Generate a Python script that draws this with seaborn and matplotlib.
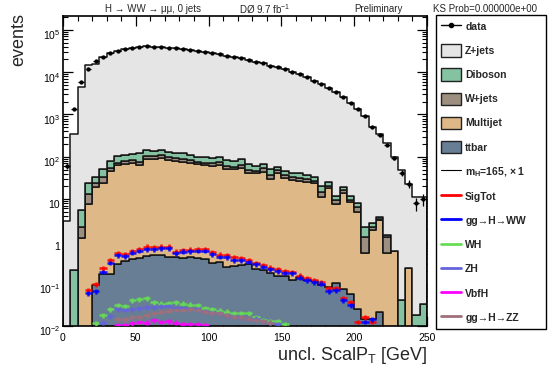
import numpy as np
import pandas as pd
import matplotlib
matplotlib.use("Agg")
import matplotlib.pyplot as plt
import seaborn as sns
from matplotlib.patches import Patch
from matplotlib.lines import Line2D
from matplotlib.transforms import ScaledTranslation
from matplotlib.ticker import FixedLocator, MultipleLocator, FuncFormatter, NullFormatter

# ---------------- data ----------------
bin_lo, bin_hi, nbins = 0, 250, 50

data_counts = [60, 1330, 5860, 11900, 18100, 23200, 28400, 32200, 34800, 36700,
               38800, 41000, 40100, 39400, 37900, 37300, 35900, 34000, 32200, 30000,
               28400, 26500, 24500, 22900, 21300, 19400, 17700, 16200, 14300, 13100,
               11700, 10100, 8900, 7570, 6300, 5350, 4300, 3400, 2550, 1900,
               1330, 906, 515, 327, 190, 95, 42, 23, 8, 10]

zjets = [3, 350, 4530, 14770, 15540, 23100, 28300, 32100, 34700, 36600,
         38700, 40850, 39950, 39250, 37750, 37150, 35800, 33900, 32100, 29900,
         28300, 26400, 24400, 22800, 21200, 19330, 17640, 16130, 14250, 13040,
         11650, 10060, 8860, 7530, 6270, 5330, 4280, 3390, 2530, 1890,
         1320, 900, 510, 335, 210, 100, 48, 23, 11, 11]

diboson = [0, 0.21, 3.3, 11.2, 9.5, 16.7, 25.7, 31.4, 32.4, 34.0,
           44.4, 39.0, 33.0, 35.0, 32.0, 30.0, 32.3, 26.0, 23.4, 24.4,
           22.0, 23.0, 23.4, 22.6, 23.3, 18.8, 13.7, 14.1, 13.4, 9.5,
           9.7, 9.3, 11.1, 7.8, 6.7, 5.4, 4.6, 2.3, 2.6, 2.3,
           1.5, 0.88, 0.49, 0.39, 0.17, 0, 0.041, 0, 0.018, 0.034]

wjets = [0, 0, 1.0, 5.5, 4.8, 10.3, 9.0, 8.6, 12.0, 14.0,
         12.6, 17.3, 17.0, 18.0, 16.0, 14.0, 12.1, 11.4, 10.1, 8.6,
         8.4, 10.0, 9.1, 7.7, 8.8, 6.7, 6.2, 9.0, 7.8, 8.1,
         6.2, 4.5, 4.2, 3.6, 3.6, 4.0, 2.4, 1.8, 2.7, 1.1,
         1.4, 0.74, 0.37, 0.19, 0.71, 0, 0, 0, 0, 0]

multijet = [0, 0, 1.2, 7.66, 19.5, 23.4, 46.0, 63.7, 67.2, 69.6,
            63.6, 88.2, 86.5, 91.5, 83.6, 80.6, 76.2, 72.2, 66.1, 63.6,
            61.3, 63.7, 51.2, 50.3, 54.9, 41.8, 40.5, 44.3, 29.2, 40.5,
            30.8, 28.2, 26.7, 25.7, 23.5, 10.9, 17.9, 7.6, 13.6, 8.3,
            5.0, 0.52, 1.84, 3.2, 0.54, 0.60, 0, 0.24, 0, 0]

ttbar = [0, 0, 0, 0, 0.093, 0.167, 0.167, 0.30, 0.35, 0.377,
         0.40, 0.45, 0.49, 0.49, 0.43, 0.42, 0.41, 0.42, 0.41, 0.377,
         0.31, 0.33, 0.25, 0.26, 0.28, 0.29, 0.22, 0.21, 0.176, 0.155,
         0.155, 0.122, 0.147, 0.122, 0.118, 0.093, 0.085, 0.102, 0.074, 0.057,
         0.025, 0.015, 0.015, 0.021, 0, 0, 0, 0, 0, 0]

sig_tot = [0, 0, 0, 0.071, 0.098, 0.23, 0.363, 0.52, 0.50, 0.60,
           0.66, 0.75, 0.73, 0.75, 0.75, 0.57, 0.63, 0.64, 0.66, 0.65,
           0.55, 0.49, 0.47, 0.42, 0.40, 0.36, 0.31, 0.28, 0.24, 0.22,
           0.20, 0.19, 0.155, 0.135, 0.12, 0.11, 0.078, 0.078, 0.045, 0.037,
           0.0126, 0.016, 0.0126, 0, 0, 0, 0, 0, 0, 0]

gg_hww = [0, 0, 0, 0.059, 0.066, 0.19, 0.31, 0.47, 0.45, 0.54,
          0.60, 0.65, 0.65, 0.69, 0.68, 0.52, 0.57, 0.58, 0.60, 0.60,
          0.50, 0.43, 0.42, 0.36, 0.36, 0.33, 0.29, 0.25, 0.22, 0.20,
          0.18, 0.175, 0.14, 0.12, 0.11, 0.10, 0.067, 0.07, 0.041, 0.031,
          0, 0.0126, 0.0144, 0, 0, 0, 0, 0, 0, 0]

wh = [0, 0, 0, 0, 0.0116, 0.018, 0.025, 0.031, 0.029, 0.041,
      0.043, 0.045, 0.036, 0.034, 0.035, 0.037, 0.034, 0.032, 0.031, 0.026,
      0.025, 0.023, 0.022, 0.020, 0.020, 0.020, 0.016, 0.014, 0.013, 0.013,
      0.011, 0, 0, 0, 0, 0, 0, 0, 0, 0,
      0, 0, 0, 0, 0, 0, 0, 0, 0, 0]

zh = [0, 0, 0, 0, 0, 0.012, 0.017, 0.025, 0.024, 0.025,
      0.026, 0.028, 0.028, 0.029, 0.030, 0.026, 0.026, 0.025, 0.025, 0.022,
      0.020, 0.020, 0.018, 0.016, 0.016, 0.015, 0.015, 0.013, 0.012, 0.011,
      0, 0, 0, 0, 0, 0, 0, 0, 0, 0,
      0, 0, 0, 0, 0, 0, 0, 0, 0, 0]

vbfh = [0, 0, 0, 0, 0, 0, 0, 0.0106, 0.0105, 0.0116,
        0.0125, 0.012, 0.0139, 0.0125, 0.013, 0.012, 0.011, 0.011, 0.011, 0.0105,
        0, 0, 0, 0, 0, 0, 0, 0, 0, 0,
        0, 0, 0, 0, 0, 0, 0, 0, 0, 0,
        0, 0, 0, 0, 0, 0, 0, 0, 0, 0]

gg_hzz = [0, 0, 0, 0, 0, 0, 0, 0.0144, 0.0144, 0.016,
          0.016, 0.018, 0.020, 0.022, 0.023, 0.024, 0.024, 0.025, 0.024, 0.022,
          0.020, 0.020, 0.018, 0.016, 0.016, 0.015, 0.014, 0.013, 0.012, 0,
          0, 0, 0, 0, 0, 0, 0, 0, 0, 0,
          0, 0, 0, 0, 0, 0, 0, 0, 0, 0]

stack_names = ["Z+jets", "Diboson", "W+jets", "Multijet", "ttbar"]
stack_values = [zjets, diboson, wjets, multijet, ttbar]
stack_colors = ["#e5e5e5", "#85c2a2", "#9c8f80", "#dfb887", "#687e94"]

signal_names = ["SigTot", "gg\u2192H\u2192WW", "WH", "ZH", "VbfH", "gg\u2192H\u2192ZZ"]
signal_values = [sig_tot, gg_hww, wh, zh, vbfh, gg_hzz]
signal_colors = ["#ff0000", "#0000ff", "#66dd55", "#6464dc", "#ff00ff", "#a0707a"]

x_ticks = [0, 50, 100, 150, 200, 250]
y_decades = [-2, -1, 0, 1, 2, 3, 4, 5]

# ---------------- style ----------------
sns.set_style("ticks")
plt.rcParams["font.family"] = ["Liberation Sans", "DejaVu Sans"]
plt.rcParams["mathtext.fontset"] = "custom"
plt.rcParams["mathtext.rm"] = "Liberation Sans"
plt.rcParams["mathtext.it"] = "Liberation Sans:italic"
plt.rcParams["mathtext.bf"] = "Liberation Sans:bold"

W, H = 550, 368
fig = plt.figure(figsize=(W / 100, H / 100), dpi=100)
ax = fig.add_axes([63 / W, 42 / H, 364 / W, 310 / H])

edges = np.linspace(bin_lo, bin_hi, nbins + 1)
centers = 0.5 * (edges[:-1] + edges[1:])
half = 0.5 * (edges[1] - edges[0])

rows = []
for name, vals in zip(stack_names, stack_values):
    for c, v in zip(centers, vals):
        rows.append((c, v, name))
df = pd.DataFrame(rows, columns=["x", "w", "proc"])

sns.histplot(data=df, x="x", weights="w", hue="proc", hue_order=stack_names,
             multiple="stack", bins=nbins, binrange=(bin_lo, bin_hi), element="step",
             palette=dict(zip(stack_names, stack_colors)), alpha=1,
             edgecolor="#151515", linewidth=1.1, legend=False, ax=ax)

ax.set_yscale("log")

for vals, col in zip(signal_values, signal_colors):
    v = np.asarray(vals, dtype=float)
    m = v > 0
    ax.errorbar(centers[m], v[m], xerr=half, yerr=0.13 * v[m], fmt="none",
                ecolor=col, elinewidth=1.8, capsize=0, zorder=5, alpha=0.9)

d = np.asarray(data_counts, dtype=float)
ax.errorbar(centers, d, xerr=half * 0.8, yerr=np.sqrt(d), fmt="o", ms=2.1,
            color="black", elinewidth=0.9, capsize=0, zorder=10)

ax.set_xlim(bin_lo, bin_hi)
ax.set_ylim(0.01, 2.13e5)
ax.set_xlabel("")
ax.set_ylabel("")
ax.xaxis.label.set_visible(False)
ax.yaxis.label.set_visible(False)

# ticks in ROOT style
ax.xaxis.set_major_locator(FixedLocator(x_ticks))
ax.xaxis.set_minor_locator(MultipleLocator(10))
majors = [10.0 ** e for e in y_decades]
minors = [k * 10.0 ** e for e in y_decades for k in range(2, 10) if k * 10.0 ** e < 2.13e5]
ax.yaxis.set_major_locator(FixedLocator(majors))
ax.yaxis.set_minor_locator(FixedLocator(minors))
ax.yaxis.set_minor_formatter(NullFormatter())


def yfmt(v, pos):
    e = int(round(np.log10(v)))
    if e == 0:
        return "1"
    if e == 1:
        return "10"
    return "$10^{%d}$" % e


ax.yaxis.set_major_formatter(FuncFormatter(yfmt))
ax.tick_params(axis="both", which="both", direction="in", top=True, right=True,
               labelsize=7.5, colors="black")
ax.tick_params(axis="both", which="major", length=7, width=0.9)
ax.tick_params(axis="both", which="minor", length=3.5, width=0.8)
ax.tick_params(axis="x", which="major", pad=5)
ax.tick_params(axis="y", which="major", pad=2)
for s in ax.spines.values():
    s.set_linewidth(1.2)
    s.set_color("black")

# ROOT places the log-axis labels a little below their ticks
shift = ScaledTranslation(0, -4.5 / 100, fig.dpi_scale_trans)
for lab in ax.get_yticklabels():
    lab.set_transform(lab.get_transform() + shift)

# titles and axis labels
fig.text(153 / W, 1 - 9 / H, "H \u2192 WW \u2192 \u03bc\u03bc, 0 jets", ha="center", va="center", fontsize=7)
fig.text(265 / W, 1 - 9 / H, "D\u00d8 9.7 fb$^{-1}$", ha="center", va="center", fontsize=7)
fig.text(378 / W, 1 - 9 / H, "Preliminary", ha="center", va="center", fontsize=7)
fig.text(433 / W, 1 - 9 / H, "KS Prob=0.000000e+00", ha="left", va="center", fontsize=7)
fig.text(427 / W, 1 - 360 / H, "uncl. ScalP$_\\mathregular{T}$ [GeV]", ha="right", va="baseline", fontsize=13)
fig.text(19 / W, 1 - 40 / H, "events", rotation=90, ha="center", va="center", fontsize=13)

# legend
handles = [Line2D([], [], color="black", marker="o", ms=3, lw=1)]
labels = ["data"]
for name, col in zip(stack_names, stack_colors):
    handles.append(Patch(facecolor=col, edgecolor="#222222", linewidth=1))
    labels.append(name)
handles.append(Line2D([], [], color="black", lw=0.8))
labels.append("m$_\\mathbf{H}$=165, \u00d7 1")
for name, col in zip(signal_names, signal_colors):
    handles.append(Line2D([], [], color=col, lw=2))
    labels.append(name)

leg = fig.legend(handles, labels, loc="upper left",
                 bbox_to_anchor=(436 / W, 1 - 15 / H, 110 / W, 0), mode="expand",
                 prop={"weight": "bold", "size": 7.5}, frameon=True, fancybox=False,
                 edgecolor="black", framealpha=1, borderpad=0.5, labelspacing=1.13,
                 handlelength=1.9, handleheight=1.45, handletextpad=0.4,
                 borderaxespad=0)
leg.get_frame().set_linewidth(1.0)

fig.savefig("out.png", dpi=100)
